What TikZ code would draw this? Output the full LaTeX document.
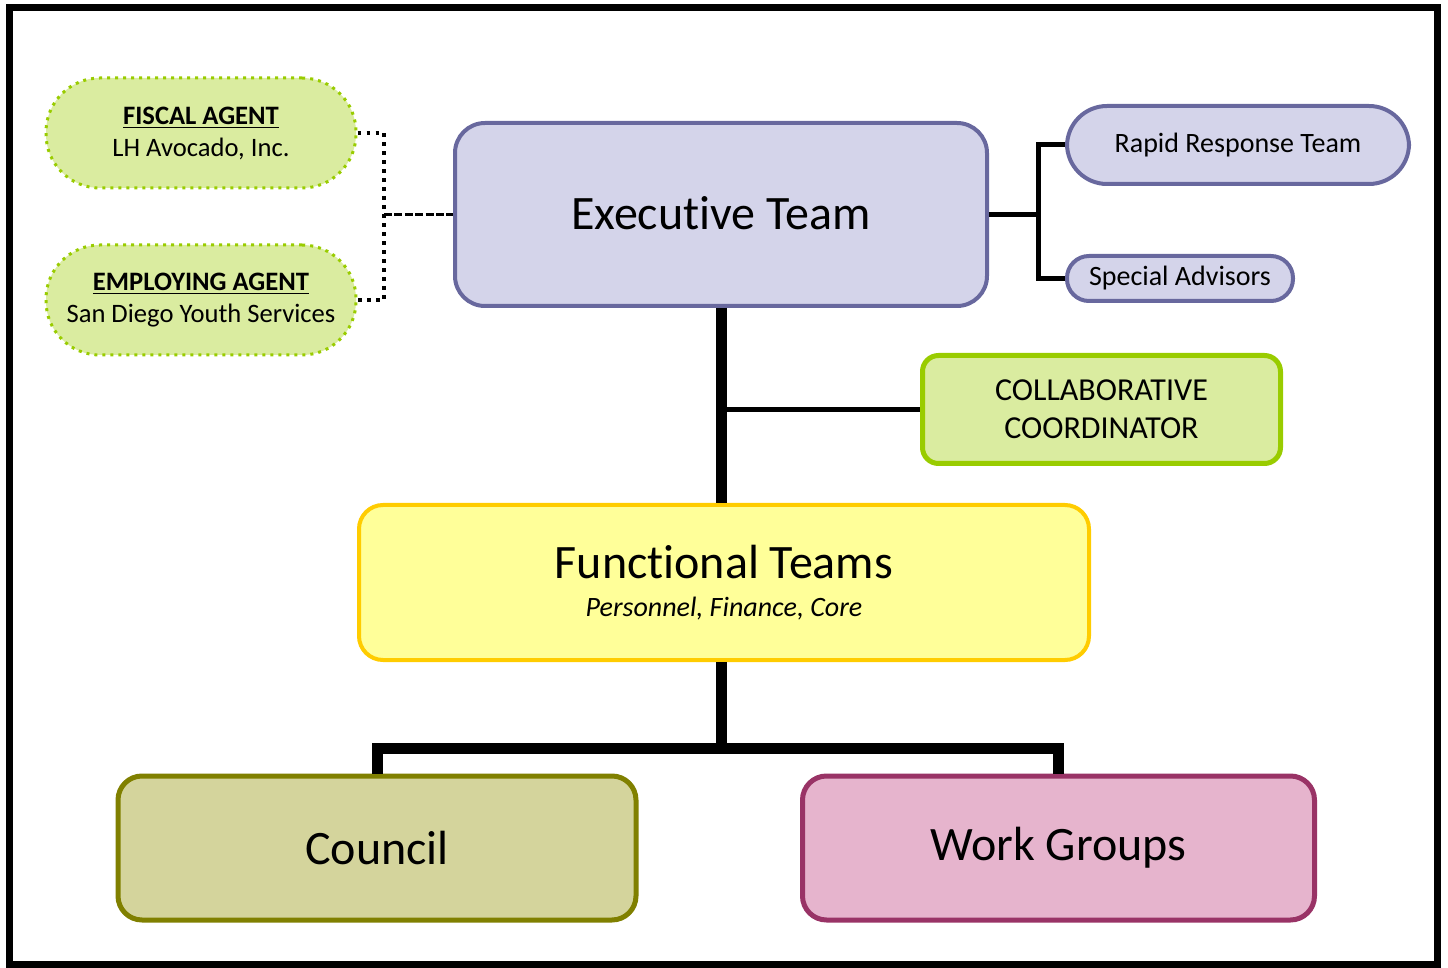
\documentclass[tikz,border=0pt]{standalone}
\usepackage{fontspec}
\setmainfont[Ligatures=NoCommon]{Carlito}
\usepackage{tikz}
\usetikzlibrary{positioning}
\definecolor{agentgr}{RGB}{153, 204, 0}
\definecolor{agentfl}{RGB}{218, 236, 160}
\definecolor{execbd}{RGB}{104, 104, 158}
\definecolor{execfl}{RGB}{212, 212, 234}
\definecolor{funcbd}{RGB}{255, 204, 0}
\definecolor{funcfl}{RGB}{255, 255, 153}
\definecolor{councbd}{RGB}{128, 128, 0}
\definecolor{councfl}{RGB}{212, 212, 156}
\definecolor{workbd}{RGB}{153, 51, 102}
\definecolor{workfl}{RGB}{230, 180, 205}

\begin{document}
\begin{tikzpicture}[x=0.5pt, y=-0.5pt,
    agent/.style={draw=agentgr, fill=agentfl, line width=1.5pt, dash pattern=on 1.5pt off 2.5pt,
        rounded corners=27pt, minimum width=155pt, minimum height=55pt, align=center,
        font=\fontsize{13.3}{16}\selectfont},
    execbox/.style={draw=execbd, fill=execfl, line width=2pt, rounded corners=15pt},
    advisor/.style={draw=execbd, fill=execfl, line width=2pt, font=\fontsize{14}{16}\selectfont},
    bigtext/.style={font=\fontsize{24}{28}\selectfont},
    dotline/.style={line width=1.7pt, dash pattern=on 1.7pt off 2.8pt},
    dashline/.style={line width=1.7pt, dash pattern=on 4pt off 1.2pt},
    midline/.style={line width=2.5pt},
    thickline/.style={line width=5.5pt}]
    \useasboundingbox (0,0) rectangle (1448,968);
    \draw[line width=3.5pt] (9.5,7.5) rectangle (1437.5,964.5);
    % agents
    \node[agent] (fiscal) at (201,133) {\textbf{\underline{FISCAL AGENT}}\\LH Avocado, Inc.};
    \node[agent] (employ) at (201,300) {\textbf{\underline{EMPLOYING AGENT}}\\San Diego Youth Services};
    % teams
    \node[execbox, bigtext, minimum width=266pt, minimum height=91.5pt] (exec) at (721,214.5) {\raisebox{2pt}{Executive Team}};
    \node[advisor, rounded corners=20pt, minimum width=171pt, minimum height=39pt] (rapid) at (1238,145) {Rapid Response Team};
    \node[advisor, rounded corners=11pt, minimum width=113pt, minimum height=22.5pt, inner sep=0pt] (special) at (1180,278.5) {\raisebox{-2.5pt}{Special Advisors}};
    \node[draw=agentgr, fill=agentfl, line width=2.5pt, rounded corners=8pt, minimum width=179pt, minimum height=54pt,
        align=center, font=\fontsize{16}{19}\selectfont] (collab) at (1101.5,409.5) {COLLABORATIVE\\COORDINATOR};
    \node[draw=funcbd, fill=funcfl, line width=2pt, rounded corners=12pt, minimum width=365pt, minimum height=77.5pt,
        align=center] (func) at (724,582.5) {{\fontsize{24}{28}\selectfont Functional Teams}\\[7pt]{\fontsize{14}{16}\selectfont\itshape Personnel, Finance, Core}};
    \node[draw=councbd, fill=councfl, line width=2.5pt, rounded corners=12pt, minimum width=259pt, minimum height=72pt, bigtext] (council) at (377,848) {Council};
    \node[draw=workbd, fill=workfl, line width=2.5pt, rounded corners=12pt, minimum width=256pt, minimum height=72pt, bigtext] (work) at (1058.5,848) {Work Groups};
    % connectors
    \coordinate (aj) at (384,214.5);
    \coordinate (rj) at (1038,214.5);
    \coordinate (fj) at (721,748);
    \draw[dotline] (fiscal.east) -| (aj) |- (employ.east);
    \draw[dashline] (aj) -- (exec.west);
    \draw[midline] (exec.east) -- (rj);
    \draw[midline] (rapid.west) -| (rj) |- (special.west);
    \draw[thickline] (exec.south) -- (exec.south |- func.north);
    \draw[midline] (exec.south |- collab.west) -- (collab.west);
    \draw[thickline] (exec.south |- func.south) -- (fj);
    \draw[thickline] (council.north) |- (fj) -| (work.north);
\end{tikzpicture}
\end{document}
